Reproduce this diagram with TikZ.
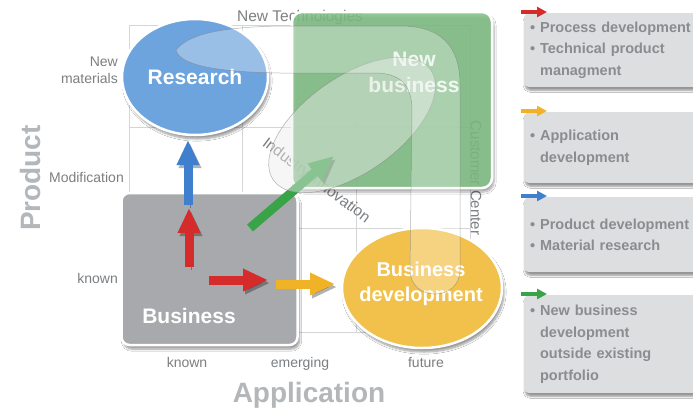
\documentclass[tikz,border=0pt]{standalone}
\usepackage{fontspec}
\setmainfont{Liberation Sans}
\usetikzlibrary{positioning,arrows.meta,shapes.geometric,shadows,shadows.blur}

\definecolor{gridgrey}{HTML}{D4D5D6}
\definecolor{labelgrey}{HTML}{7C7F82}
\definecolor{axisgrey}{HTML}{B4B7BA}
\definecolor{boxgrey}{HTML}{DCDEE0}
\definecolor{boxtext}{HTML}{8A8D90}
\definecolor{resblue}{HTML}{6DA4DD}
\definecolor{nbgreen}{HTML}{82C186}
\definecolor{bizgrey}{HTML}{A7A9AC}
\definecolor{devyellow}{HTML}{F1C14B}
\definecolor{arrred}{HTML}{D62B2B}
\definecolor{arryellow}{HTML}{F0B327}
\definecolor{arrblue}{HTML}{3E7FCE}
\definecolor{arrgreen}{HTML}{38A347}

\tikzset{
  gridline/.style={draw=gridgrey, line width=0.6pt},
  lbl/.style={font=\fontsize{14}{17}\selectfont, text=labelgrey, inner sep=0pt},
  axislbl/.style={font=\bfseries\fontsize{28}{30}\selectfont, text=axisgrey, inner sep=0pt},
  shapetxt/.style={font=\bfseries\fontsize{21}{26}\selectfont, text=white, align=center, inner sep=0pt},
  bigshape/.style={draw=white, line width=2.5pt, inner sep=0pt,
    blur shadow={shadow xshift=2pt, shadow yshift=-4pt, shadow blur steps=8, shadow opacity=40}},
  bigarrow/.style={line width=9pt, -{Triangle[length=25pt,width=21pt]},
    preaction={draw=black, opacity=.3, transform canvas={shift={(2pt,-3pt)}}}},
  tinyarrow/.style={line width=4pt, -{Triangle[length=10pt,width=10pt]}},
  infobox/.style={rectangle, rounded corners=5pt, fill=boxgrey, anchor=north west,
    inner xsep=6pt, inner ysep=0pt, text width=178pt, align=left, text=boxtext,
    font=\bfseries\fontsize{14.5}{21.5}\selectfont,
    blur shadow={shadow xshift=1pt, shadow yshift=-3pt, shadow blur steps=6, shadow opacity=45}},
  overlay shape/.style={fill=white, fill opacity=.3, draw=gray, draw opacity=.6, line width=.5pt},
}

\begin{document}
\begin{tikzpicture}[x=1pt,y=1pt,yscale=-1,xscale=1]
  \fill[white] (0,0) rectangle (693,408);
  \useasboundingbox (0,0) rectangle (693,408);

  % grid
  \foreach \gx in {129,242,356,470}
    \draw[gridline] (\gx,25) -- (\gx,332);
  \foreach \gy in {25,127,228,332}
    \draw[gridline] (129,\gy) -- (470,\gy);

  % axis labels
  \node[lbl, anchor=base east] (newlbl) at (118,66) {New};
  \node[lbl, anchor=base east] (matlbl) at (118,83) {materials};
  \node[lbl, anchor=base east] (modlbl) at (124,182) {Modification};
  \node[lbl, anchor=base east] (knownleft) at (118,283) {known};
  \node[lbl, anchor=base] (knownbot) at (187,367) {known};
  \node[lbl, anchor=base] (emerglbl) at (300,367) {emerging};
  \node[lbl, anchor=base] (futurelbl) at (426,367) {future};
  \node[axislbl, anchor=base] (applbl) at (309,402) {Application};
  \node[axislbl, rotate=90] (prodlbl) at (30,178) {Product};

  % area labels
  \node[lbl, font=\fontsize{15.5}{17}\selectfont, anchor=base] (techlbl) at (300,21) {New Technologies};
  \node[lbl, font=\fontsize{15.5}{17}\selectfont, rotate=-37] (indlbl) at (316,181) {Industry innovation};
  \node[lbl, font=\fontsize{15}{17}\selectfont, rotate=-90] (centerlbl) at (476,178) {Customer Center};

  % main shapes
  \node[bigshape, ellipse, fill=resblue, minimum width=146pt, minimum height=116pt] (research) at (195,77) {};
  \node[bigshape, rectangle, rounded corners=8pt, fill=bizgrey, minimum width=176pt, minimum height=152pt] (business) at (209.5,269) {};
  \node[bigshape, ellipse, fill=devyellow, minimum width=160pt, minimum height=120pt] (bizdev) at (422,288) {};
  \node[bigshape, rectangle, rounded corners=10pt, fill=nbgreen, fill opacity=.85, minimum width=200pt, minimum height=176pt] (newbiz) at (392,100) {};

  % shape texts
  \node[shapetxt] (restxt) at (195,77) {Research};
  \node[shapetxt, text=white!85!nbgreen] (nbtxt) at (414,72) {New\\business};
  \node[shapetxt] (biztxt) at (189,316) {Business};
  \node[shapetxt, font=\bfseries\fontsize{20}{25}\selectfont] (devtxt) at (421,284) {Business\\development};

  % arrows
  \coordinate (blueS) at (188,205);
  \coordinate (blueE) at (188,140);
  \coordinate (redvS) at (189,267);
  \coordinate (redvE) at (189,208);
  \coordinate (redhS) at (209,280);
  \coordinate (redhE) at (268,280);
  \coordinate (yelS) at (276,284);
  \coordinate (yelE) at (335,284);
  \coordinate (grnS) at (250,228);
  \coordinate (grnE) at (334,156);
  \draw[bigarrow, arrblue] (blueS) -- (blueE);
  \draw[bigarrow, arrred] (redvS) -- (redvE);
  \draw[bigarrow, arrred] (redhS) -- (redhE);
  \draw[bigarrow, arryellow] (yelS) -- (yelE);
  \draw[bigarrow, arrgreen] (grnS) -- (grnE);

  % translucent areas
  \draw[overlay shape, fill=gray!15, fill opacity=.45, rotate around={-35:(352,125)}] (352,125) ellipse [x radius=96, y radius=48];
  \draw[overlay shape] (176,50) .. controls (190,32) and (230,27) .. (280,26) -- (400,26)
    .. controls (440,26) and (460,45) .. (460,85) -- (460,270)
    .. controls (460,302) and (410,302) .. (410,270) -- (412,110)
    .. controls (412,85) and (400,73) .. (375,73) -- (280,73)
    .. controls (220,72) and (180,66) .. (176,50) -- cycle;

  % info boxes
  \node[infobox, minimum height=74pt] (procbox) at (524,13)
    {\textbullet\ Process development\\\textbullet\ Technical product\\\hphantom{\textbullet\ }managment};
  \node[infobox, minimum height=71pt] (appbox) at (524,112)
    {\textbullet\ Application\\\hphantom{\textbullet\ }development};
  \node[infobox, minimum height=75pt] (matbox) at (524,197)
    {\textbullet\ Product development\\\textbullet\ Material research};
  \node[infobox, minimum height=98pt] (nbbox) at (524,295)
    {\textbullet\ New business\\\hphantom{\textbullet\ }development\\\hphantom{\textbullet\ }outside existing\\\hphantom{\textbullet\ }portfolio};

  \draw[tinyarrow, arrred] ([xshift=-3pt,yshift=-1pt]procbox.north west) -- ++(26,0);
  \draw[tinyarrow, arryellow] ([xshift=-3pt,yshift=-1pt]appbox.north west) -- ++(26,0);
  \draw[tinyarrow, arrblue] ([xshift=-3pt,yshift=-1pt]matbox.north west) -- ++(26,0);
  \draw[tinyarrow, arrgreen] ([xshift=-3pt,yshift=-1pt]nbbox.north west) -- ++(26,0);
\end{tikzpicture}
\end{document}
